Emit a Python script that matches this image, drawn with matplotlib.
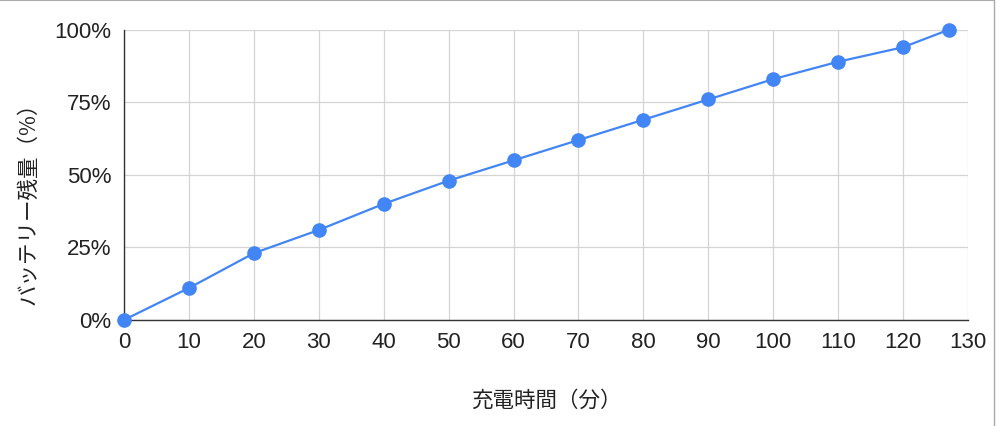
import matplotlib
matplotlib.use('Agg')
import matplotlib.pyplot as plt
from matplotlib.lines import Line2D
from matplotlib.ticker import FuncFormatter

plt.rcParams['font.family'] = ['Liberation Sans', 'Noto Sans CJK JP', 'DejaVu Sans']
jp_font = ['Noto Sans CJK JP', 'DejaVu Sans']

# charge time (min) vs battery level (%)
minutes = [0, 10, 20, 30, 40, 50, 60, 70, 80, 90, 100, 110, 120, 127]
battery = [0, 11, 23, 31, 40, 48, 55, 62, 69, 76, 83, 89, 94, 100]

x_ticks = list(range(0, 131, 10))
y_ticks = [0, 25, 50, 75, 100]

fig = plt.figure(figsize=(10, 4.26), dpi=100)
ax = fig.add_axes([0.124, 0.249, 0.844, 0.681])

ax.plot(minutes, battery, color='#4285F4', lw=1.6, marker='o', ms=9.5,
        clip_on=False, zorder=3)

ax.set_xlim(0, 130)
ax.set_ylim(0, 100)
ax.set_xticks(x_ticks)
ax.set_yticks(y_ticks)
ax.yaxis.set_major_formatter(FuncFormatter(lambda v, p: f'{int(v)}%'))
ax.tick_params(length=0, labelsize=16, colors='#222222', pad=9)
ax.tick_params(axis='y', pad=9)

ax.grid(True, color='#d4d4d4', lw=0.9)
ax.set_axisbelow(True)
for s in ['top', 'right']:
    ax.spines[s].set_visible(False)
for s in ['left', 'bottom']:
    ax.spines[s].set_color('#333333')
    ax.spines[s].set_linewidth(1.0)

ax.set_xlabel('充電時間（分）', fontsize=15.5, color='#222222', labelpad=26,
              family=jp_font)
ax.set_ylabel('バッテリー残量（%）', fontsize=15.5, color='#222222',
              family=jp_font)
ax.yaxis.set_label_coords(-0.1, 0.42)

# screenshot frame edges
fig.add_artist(Line2D([0, 0.994], [0.999, 0.999], color='#aaaaaa', lw=1.5))
fig.add_artist(Line2D([0.994, 0.994], [0, 0.999], color='#aaaaaa', lw=1.0))

fig.savefig('out.png', dpi=100)
